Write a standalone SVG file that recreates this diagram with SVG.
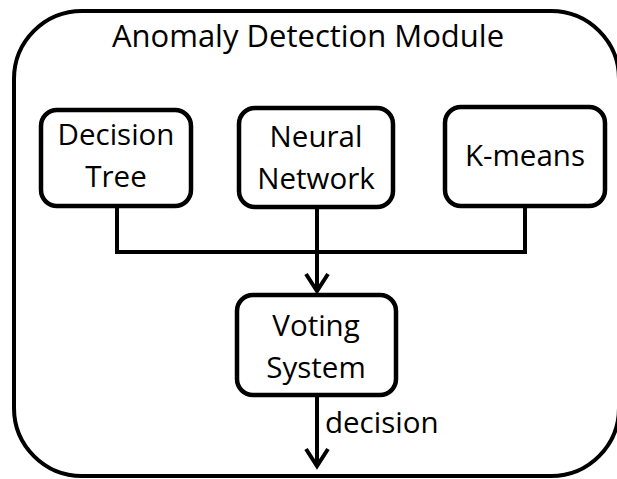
<svg xmlns="http://www.w3.org/2000/svg" width="617" height="479" viewBox="0 0 617 479">
<style>
.box{fill:#fff;stroke:#000;stroke-width:4.5}
.outer{fill:#fff;stroke:#000;stroke-width:4}
.t{font-family:"Open Sans","Liberation Sans",sans-serif;font-size:29.5px;fill:#000;text-anchor:middle}
.title{font-size:31px}
.conn{fill:none;stroke:#000;stroke-width:4}
</style>
<defs>
<marker id="arr" viewBox="-20 -14 24 28" refX="0" refY="0" markerWidth="24" markerHeight="28" markerUnits="userSpaceOnUse" orient="auto">
<path d="M-17,-11 L0,0 L-17,11" fill="none" stroke="#000" stroke-width="4" stroke-linejoin="miter"/>
</marker>
</defs>
<rect width="617" height="479" fill="#fff"/>
<g id="module">
<rect class="outer" x="14" y="11" width="605" height="465" rx="68" ry="68"/>
<text class="t title" x="308" y="47">Anomaly Detection Module</text>
</g>
<g id="connectors">
<path class="conn" d="M117,207 V252 H525 V207"/>
<path class="conn" d="M317,207 V252"/>
<path class="conn" d="M317,252 V291" marker-end="url(#arr)"/>
<path class="conn" d="M317,396 V466" marker-end="url(#arr)"/>
<text class="t" x="325" y="433" style="text-anchor:start">decision</text>
</g>
<g id="decision-tree">
<rect class="box" x="41" y="110" width="150" height="96" rx="16"/>
<text class="t" x="116" y="145">Decision</text>
<text class="t" x="116" y="187">Tree</text>
</g>
<g id="neural-network">
<rect class="box" x="239" y="108" width="154" height="99" rx="16"/>
<text class="t" x="316" y="147">Neural</text>
<text class="t" x="316" y="189">Network</text>
</g>
<g id="k-means">
<rect class="box" x="445" y="107" width="160" height="99" rx="16"/>
<text class="t" x="525" y="166">K-means</text>
</g>
<g id="voting-system">
<rect class="box" x="237" y="295" width="159" height="100" rx="16"/>
<text class="t" x="316" y="336">Voting</text>
<text class="t" x="316" y="378">System</text>
</g>
</svg>
